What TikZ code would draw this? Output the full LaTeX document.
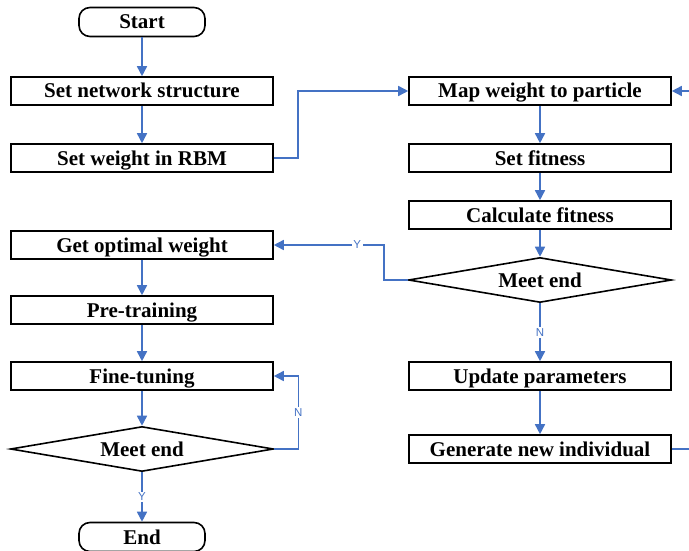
\documentclass[tikz,border=0pt]{standalone}
\usepackage{fontspec}
\setmainfont{Liberation Serif}
\setsansfont{Liberation Sans}
\usetikzlibrary{shapes.geometric,arrows.meta}
\definecolor{flowblue}{RGB}{68,114,196}
\begin{document}
\begin{tikzpicture}[x=1pt,y=-1pt,
  every node/.style={font=\bfseries\fontsize{21}{24}\selectfont},
  procbox/.style={draw=black,line width=1.6pt,minimum width=262pt,minimum height=28pt,inner sep=0pt,text height=16.5pt,text depth=2.5pt},
  termbox/.style={draw=black,line width=1.6pt,rounded corners=11pt,minimum width=126pt,minimum height=29pt,inner sep=0pt,text height=16.5pt,text depth=2.5pt},
  testbox/.style={draw=black,line width=1.6pt,diamond,minimum width=263pt,minimum height=45pt,inner sep=0pt,aspect=5.8,text height=16.5pt,text depth=2.5pt},
  link/.style={draw=flowblue,line width=1.6pt,-{Triangle[length=10pt,width=10pt]}},
  plainlink/.style={draw=flowblue,line width=1.6pt},
  tag/.style={font=\sffamily\fontsize{11.5}{14}\selectfont,text=flowblue,fill=white,inner sep=1.5pt}]
\useasboundingbox (0,0) rectangle (689,551);

% left column
\node[termbox] (start) at (142,22) {Start};
\node[procbox] (net) at (142,91) {Set network structure};
\node[procbox] (rbm) at (142,158) {Set weight in RBM};
\node[procbox] (opt) at (142,245) {Get optimal weight};
\node[procbox] (pre) at (142,310) {Pre-training};
\node[procbox] (fine) at (142,376) {Fine-tuning};
\node[testbox] (endL) at (142,449) {Meet end};
\node[termbox] (stop) at (142,537) {End};

% right column
\node[procbox] (map) at (540,91) {Map weight to particle};
\node[procbox] (fit) at (540,158) {Set fitness};
\node[procbox] (calc) at (540,215) {Calculate fitness};
\node[testbox] (endR) at (540,280) {Meet end};
\node[procbox] (upd) at (540,376) {Update parameters};
\node[procbox] (gen) at (540,449) {Generate new individual};

% loop-back route beyond the right margin
\coordinate (loopA) at (700,449);
\coordinate (loopB) at (700,91);

% straight links
\draw[link] (start) -- (net);
\draw[link] (net) -- (rbm);
\draw[link] (opt) -- (pre);
\draw[link] (pre) -- (fine);
\draw[link] (fine) -- (endL);
\draw[link] (endL) -- node[tag]{Y} (stop);
\draw[link] (map) -- (fit);
\draw[link] (fit) -- (calc);
\draw[link] (calc) -- (endR);
\draw[link] (endR) -- node[tag,pos=0.5]{N} (upd);
\draw[link] (upd) -- (gen);

% elbow links
\draw[link] (rbm.east) -- ++(24,0) |- (map.west);
\draw[link] (endR.west) -- ++(-24,0) |- node[tag,pos=0.62]{Y} (opt.east);
\draw[link] (endL.east) -- ++(24,0) |- node[tag,pos=0.25]{N} (fine.east);
\draw[plainlink] (gen.east) -- (loopA) -- (loopB);
\draw[link] (loopB) -- (map.east);
\end{tikzpicture}
\end{document}
